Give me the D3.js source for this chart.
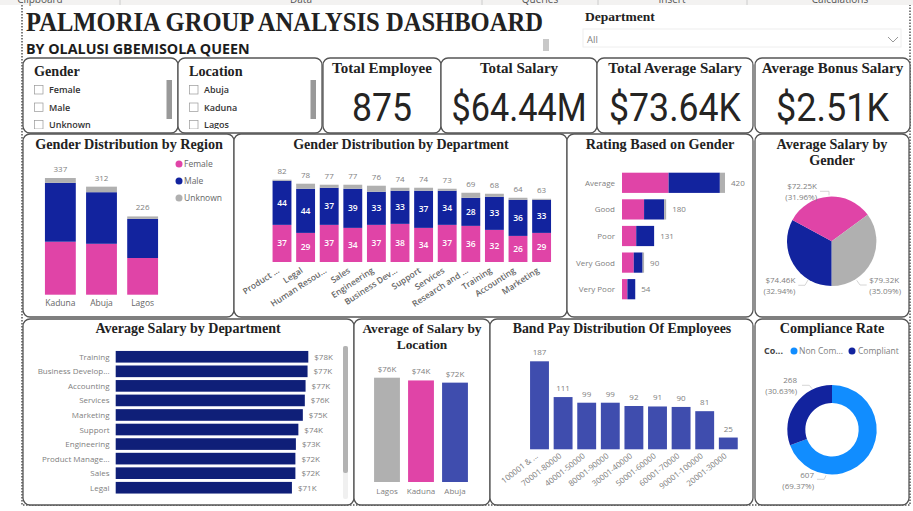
<!DOCTYPE html>
<html>
<head>
<meta charset="utf-8">
<script src="https://cdnjs.cloudflare.com/ajax/libs/d3/7.8.5/d3.min.js"></script>
<style>
    html, body { margin: 0; padding: 0; background: #fff; overflow: hidden; }
    svg { display: block; }
    .title { font-family: "Liberation Serif", serif; font-weight: bold; font-size: 14.2px; fill: #222; text-anchor: middle; }
    .label { font-family: "Open Sans", sans-serif; font-size: 8px; fill: #808080; }
    .axis-label { font-family: "Open Sans", sans-serif; font-size: 8.5px; fill: #666; }
    .inner { font-family: "Open Sans", sans-serif; font-size: 8.5px; fill: #fff; text-anchor: middle; font-weight: 600; }
    .card { font-family: "Roboto", sans-serif; font-size: 38px; fill: #252423; text-anchor: middle; }
    .slicer { font-family: "Open Sans", sans-serif; font-size: 9px; font-weight: 600; fill: #333; }
</style>
</head>
<body>
<svg id="chart" width="913" height="511"></svg>
<script>
var PINK = "#e044a7";
var NAVY = "#12239e";
var GREY = "#b0b0b0";
var INDIGO = "#3f4dae";
var DARK = "#0f1f78";
var SKY = "#118dff";

// Cards and slicers
var cardTitles = ["Total Employee", "Total Salary", "Total Average Salary", "Average Bonus Salary"];
var cardValues = ["875", "$64.44M", "$73.64K", "$2.51K"];
var genderOptions = ["Female", "Male", "Unknown"];
var locationOptions = ["Abuja", "Kaduna", "Lagos"];
var ribbonLabels = ["Clipboard", "Data", "Queries", "Insert", "Calculations"];

// Gender Distribution by Region
var regions = ["Kaduna", "Abuja", "Lagos"];
var regionFemale = [153, 147, 106];
var regionMale = [170, 149, 113];
var regionUnknown = [14, 16, 7];

// Gender Distribution by Department
var departments = ["Product ...", "Legal", "Human Resou...", "Sales", "Engineering", "Business Dev...", "Support", "Services", "Research and ...", "Training", "Accounting", "Marketing"];
var deptFemale = [37, 29, 37, 34, 37, 38, 34, 37, 36, 32, 26, 29];
var deptMale = [44, 44, 37, 39, 33, 33, 37, 34, 28, 33, 36, 33];
var deptUnknown = [1, 5, 3, 4, 6, 3, 3, 2, 5, 3, 2, 1];

// Rating Based on Gender
var ratings = ["Average", "Good", "Poor", "Very Good", "Very Poor"];
var ratingFemale = [190, 90, 58, 48, 22];
var ratingMale = [209, 82, 73, 36, 32];
var ratingUnknown = [21, 8, 0, 6, 0];

// Average Salary by Gender
var pieValues = [74.46, 72.25, 79.32];
var pieAmounts = ["$74.46K", "$72.25K", "$79.32K"];
var piePercents = ["(32.94%)", "(31.96%)", "(35.09%)"];

// Average Salary by Department
var salaryDepts = ["Training", "Business Develop...", "Accounting", "Services", "Marketing", "Support", "Engineering", "Product Manage...", "Sales", "Legal"];
var salaryValues = [77.6, 77.3, 76.5, 76.2, 75.4, 73.6, 72.6, 72.4, 72.4, 71];

// Average of Salary by Location
var locations = ["Lagos", "Kaduna", "Abuja"];
var locationSalary = [76, 74, 72.4];

// Band Pay Distribution Of Employees
var bands = ["100001 & ...", "70001-80000", "40001-50000", "80001-90000", "30001-40000", "50001-60000", "60001-70000", "90001-100000", "20001-30000"];
var bandCounts = [187, 111, 99, 99, 92, 91, 90, 81, 25];

// Compliance Rate
var complianceValues = [607, 268];
var compliancePercents = ["(69.37%)", "(30.63%)"];

var svg = d3.select("#chart");

// Ribbon strip at the top of the screenshot
svg.append("rect").attr("width", 913).attr("height", 5).attr("fill", "#f3f2f1");
var ribbonX = d3.scaleOrdinal().domain(ribbonLabels).range([40, 301, 540, 672, 840]);
svg.selectAll(".ribbon").data(ribbonLabels).enter().append("text")
    .attr("class", "label")
    .attr("x", function (d) { return ribbonX(d); })
    .attr("y", 3)
    .attr("text-anchor", "middle")
    .style("font-size", "10px")
    .style("fill", "#555")
    .text(function (d) { return d; });
[120, 482, 598, 747].forEach(function (x) {
    svg.append("line").attr("x1", x).attr("x2", x).attr("y1", 0).attr("y2", 5).attr("stroke", "#ccc");
});

// Dotted page border
svg.append("path")
    .attr("d", "M22,5 V505 H910 V5")
    .attr("fill", "none")
    .attr("stroke", "#555")
    .attr("stroke-width", 1.5)
    .attr("stroke-dasharray", "1.5,1.5");

// Header
svg.append("text").attr("x", 26).attr("y", 31)
    .style("font-family", "Liberation Serif").style("font-weight", "bold")
    .style("font-size", "27px").style("fill", "#222")
    .attr("textLength", 517).attr("lengthAdjust", "spacingAndGlyphs")
    .text("PALMORIA GROUP ANALYSIS DASHBOARD");
svg.append("text").attr("x", 26).attr("y", 54)
    .style("font-family", "Open Sans").style("font-weight", "bold")
    .style("font-size", "14.3px").style("fill", "#1c1c1c")
    .text("BY OLALUSI GBEMISOLA QUEEN");
svg.append("rect").attr("x", 543).attr("y", 39).attr("width", 6).attr("height", 12).attr("fill", "#c8c8c8");

// Department slicer
svg.append("text").attr("x", 585).attr("y", 21)
    .attr("class", "title").style("text-anchor", "start").style("font-size", "13.5px")
    .text("Department");
svg.append("rect").attr("x", 583).attr("y", 29).attr("width", 318).attr("height", 18)
    .attr("fill", "#fff").attr("stroke", "#eee");
svg.append("text").attr("x", 587).attr("y", 43).attr("class", "label")
    .style("font-size", "9.5px").text("All");
svg.append("path").attr("d", "M888,37 L893,42 L898,37").attr("fill", "none").attr("stroke", "#999");

function panel(x, y, w, h) {
    svg.append("rect")
        .attr("x", x).attr("y", y).attr("width", w).attr("height", h)
        .attr("rx", 7).attr("ry", 7)
        .attr("fill", "#fff")
        .attr("stroke", "#555")
        .attr("stroke-width", 1.3);
}

function title(lines, cx, y, size) {
    lines.forEach(function (line, i) {
        var t = svg.append("text").attr("class", "title")
            .attr("x", cx).attr("y", y + i * 16).text(line);
        if (size) t.style("font-size", size + "px");
    });
}

// Slicers
function slicer(x, name, options, w, scrollX, clipId) {
    panel(x, 58, w, 75);
    svg.append("text").attr("class", "title").style("text-anchor", "start")
        .attr("x", x + 11).attr("y", 76).text(name);
    svg.append("clipPath").attr("id", clipId).append("rect")
        .attr("x", x).attr("y", 58).attr("width", w).attr("height", 71);
    var y = d3.scalePoint().domain(options).range([89.5, 124.5]);
    var g = svg.append("g").attr("clip-path", "url(#" + clipId + ")");
    g.selectAll("rect").data(options).enter().append("rect")
        .attr("x", x + 11.5).attr("y", function (d) { return y(d) - 4; })
        .attr("width", 8.5).attr("height", 8.5)
        .attr("fill", "#fff").attr("stroke", "#999").attr("stroke-width", 0.7);
    g.selectAll("text").data(options).enter().append("text")
        .attr("class", "slicer")
        .attr("x", x + 26).attr("y", function (d) { return y(d) + 3.5; })
        .text(function (d) { return d; });
    svg.append("rect").attr("x", scrollX).attr("y", 80).attr("width", 5.5).attr("height", 39).attr("fill", "#999");
}
slicer(23, "Gender", genderOptions, 155, 166.5, "clipGender");
slicer(178, "Location", locationOptions, 144, 310.5, "clipLocation");

// Cards
var cardBoxes = [[323, 118], [441, 156], [597, 156], [755, 155]];
var cardWidths = [60, 135, 132, 113];
cardTitles.forEach(function (t, i) {
    var box = cardBoxes[i];
    panel(box[0], 58, box[1], 75);
    title([t], box[0] + box[1] / 2, 73, 15);
    svg.append("text").attr("class", "card")
        .attr("x", box[0] + box[1] / 2).attr("y", 121)
        .attr("textLength", cardWidths[i]).attr("lengthAdjust", "spacingAndGlyphs")
        .text(cardValues[i]);
});

// Stacked columns shared by region and department charts
function stackData(names, female, male, unknown) {
    return names.map(function (n, i) {
        return { name: n, Female: female[i], Male: male[i], Unknown: unknown[i] };
    });
}
var stackKeys = ["Female", "Male", "Unknown"];
var stackColor = d3.scaleOrdinal().domain(stackKeys).range([PINK, NAVY, GREY]);

function stackedColumns(data, x, y, showInner) {
    var series = d3.stack().keys(stackKeys)(data);
    var g = svg.append("g");
    series.forEach(function (s) {
        g.selectAll(".bar-" + s.key).data(s).enter().append("rect")
            .attr("x", function (d) { return x(d.data.name); })
            .attr("y", function (d) { return y(d[1]); })
            .attr("width", x.bandwidth())
            .attr("height", function (d) { return y(d[0]) - y(d[1]); })
            .attr("fill", stackColor(s.key));
        if (showInner && s.key !== "Unknown") {
            g.selectAll(".lab-" + s.key).data(s).enter().append("text")
                .attr("class", "inner")
                .attr("x", function (d) { return x(d.data.name) + x.bandwidth() / 2; })
                .attr("y", function (d) { return (y(d[0]) + y(d[1])) / 2 + 3; })
                .text(function (d) { return d[1] - d[0]; });
        }
    });
    g.selectAll(".total").data(data).enter().append("text")
        .attr("class", "label").attr("text-anchor", "middle")
        .attr("x", function (d) { return x(d.name) + x.bandwidth() / 2; })
        .attr("y", function (d) { return y(d.Female + d.Male + d.Unknown) - 6; })
        .text(function (d) { return d.Female + d.Male + d.Unknown; });
}

// Gender Distribution by Region
panel(23, 134, 211, 183);
title(["Gender Distribution by Region"], 129, 149);
var regionData = stackData(regions, regionFemale, regionMale, regionUnknown);
var regionX = d3.scaleBand().domain(regions).range([40, 163]).paddingInner(0.25).paddingOuter(0.12);
var regionY = d3.scaleLinear().domain([0, 337]).range([294.7, 178]);
stackedColumns(regionData, regionX, regionY, false);
svg.selectAll(".region-label").data(regions).enter().append("text")
    .attr("class", "axis-label").attr("text-anchor", "middle")
    .attr("x", function (d) { return regionX(d) + regionX.bandwidth() / 2; })
    .attr("y", 306)
    .text(function (d) { return d; });
var legendY = d3.scalePoint().domain(stackKeys).range([164, 198]);
svg.selectAll(".legend-dot").data(stackKeys).enter().append("circle")
    .attr("cx", 179).attr("cy", function (d) { return legendY(d); }).attr("r", 3.5)
    .attr("fill", function (d) { return stackColor(d); });
svg.selectAll(".legend-text").data(stackKeys).enter().append("text")
    .attr("class", "axis-label")
    .attr("x", 184).attr("y", function (d) { return legendY(d) + 3; })
    .text(function (d) { return d; });

// Gender Distribution by Department
panel(234, 134, 333, 183);
title(["Gender Distribution by Department"], 401, 149, 14);
var deptData = stackData(departments, deptFemale, deptMale, deptUnknown);
var deptX = d3.scaleBand().domain(departments).range([270.2, 553.4]).paddingInner(0.2).paddingOuter(0.1);
var deptY = d3.scaleLinear().domain([0, 82]).range([262, 179.7]);
stackedColumns(deptData, deptX, deptY, true);
svg.selectAll(".dept-label").data(departments).enter().append("text")
    .attr("class", "axis-label").attr("text-anchor", "end")
    .style("font-weight", "600")
    .attr("transform", function (d) {
        return "translate(" + (deptX(d) + deptX.bandwidth() / 2 - 2) + ",272) rotate(-33)";
    })
    .text(function (d) { return d; });

// Rating Based on Gender
panel(567, 134, 186, 183);
title(["Rating Based on Gender"], 660, 149);
var ratingY = d3.scaleBand().domain(ratings).range([169.5, 302.5]).paddingInner(0.24).paddingOuter(0.12);
var ratingX = d3.scaleLinear().domain([0, 420]).range([622, 725]);
var ratingData = stackData(ratings, ratingFemale, ratingMale, ratingUnknown);
d3.stack().keys(stackKeys)(ratingData).forEach(function (s) {
    svg.selectAll(".rating-" + s.key).data(s).enter().append("rect")
        .attr("x", function (d) { return ratingX(d[0]); })
        .attr("y", function (d) { return ratingY(d.data.name); })
        .attr("width", function (d) { return ratingX(d[1]) - ratingX(d[0]); })
        .attr("height", ratingY.bandwidth())
        .attr("fill", stackColor(s.key));
});
svg.selectAll(".rating-name").data(ratings).enter().append("text")
    .attr("class", "label").attr("text-anchor", "end")
    .attr("x", 615)
    .attr("y", function (d) { return ratingY(d) + ratingY.bandwidth() / 2 + 3; })
    .text(function (d) { return d; });
svg.selectAll(".rating-total").data(ratingData).enter().append("text")
    .attr("class", "label")
    .attr("x", function (d) { return ratingX(d.Female + d.Male + d.Unknown) + 6; })
    .attr("y", function (d) { return ratingY(d.name) + ratingY.bandwidth() / 2 + 3; })
    .text(function (d) { return d.Female + d.Male + d.Unknown; });

// Pie and donut labels with their leader lines, placed relative to the centre
function callout(labels, cx, cy, places) {
    labels.forEach(function (lines, i) {
        var p = places[i];
        svg.append("path")
            .attr("transform", "translate(" + cx + "," + cy + ")")
            .attr("d", p.leader)
            .attr("fill", "none").attr("stroke", "#ccc").attr("stroke-width", 0.8);
        lines.forEach(function (line, j) {
            svg.append("text").attr("class", "label").attr("text-anchor", p.anchor)
                .attr("x", cx + p.dx).attr("y", cy + p.dy + j * 11).text(line);
        });
    });
}

// Average Salary by Gender
panel(755, 134, 154, 183);
title(["Average Salary by", "Gender"], 832, 149);
var pieGen = d3.pie().sort(null).startAngle(Math.PI).endAngle(3 * Math.PI);
var pieArc = d3.arc().innerRadius(0).outerRadius(44.7);
var pieColors = [NAVY, PINK, GREY];
svg.append("g").attr("transform", "translate(831.7,241.3)")
    .selectAll("path").data(pieGen(pieValues)).enter().append("path")
    .attr("d", pieArc)
    .attr("fill", function (d, i) { return pieColors[i]; });
callout(pieAmounts.map(function (a, i) { return [a, piePercents[i]]; }), 831.7, 241.3, [
    { anchor: "end", dx: -36.4, dy: 41.7, leader: "M-23.7,38.7 L-26.7,44 H-33.4" },
    { anchor: "end", dx: -14.7, dy: -52.3, leader: "M-2.7,-46 V-50 H-11.7" },
    { anchor: "start", dx: 37.6, dy: 41.7, leader: "M25,39 L28.3,43.7 H35" }
]);

// Average Salary by Department
panel(23, 319, 331, 186);
title(["Average Salary by Department"], 188, 333, 14);
var salaryY = d3.scaleBand().domain(salaryDepts).range([349.5, 495]).paddingInner(0.2).paddingOuter(0.1);
var salaryX = d3.scaleLinear().domain([0, 77.6]).range([115.7, 308.3]);
svg.selectAll(".salary-bar").data(salaryValues).enter().append("rect")
    .attr("x", salaryX(0))
    .attr("y", function (d, i) { return salaryY(salaryDepts[i]); })
    .attr("width", function (d) { return salaryX(d) - salaryX(0); })
    .attr("height", salaryY.bandwidth())
    .attr("fill", DARK);
svg.selectAll(".salary-name").data(salaryDepts).enter().append("text")
    .attr("class", "label").attr("text-anchor", "end").attr("x", 109.5)
    .attr("y", function (d) { return salaryY(d) + salaryY.bandwidth() / 2 + 3; })
    .text(function (d) { return d; });
svg.selectAll(".salary-value").data(salaryValues).enter().append("text")
    .attr("class", "label")
    .attr("x", function (d) { return salaryX(d) + 6; })
    .attr("y", function (d, i) { return salaryY(salaryDepts[i]) + salaryY.bandwidth() / 2 + 3; })
    .text(function (d) { return "$" + Math.round(d) + "K"; });
svg.append("rect").attr("x", 343).attr("y", 346).attr("width", 5).attr("height", 153).attr("rx", 2).attr("fill", "#f0f0f0");
svg.append("rect").attr("x", 343).attr("y", 346).attr("width", 5).attr("height", 127).attr("rx", 2).attr("fill", "#b3b3b3");

// Average of Salary by Location
panel(354, 319, 136, 186);
title(["Average of Salary by", "Location"], 422, 333, 13.4);
var locX = d3.scaleBand().domain(locations).range([370, 472]).paddingInner(0.24).paddingOuter(0.12);
var locY = d3.scaleLinear().domain([0, 76]).range([482, 377.7]);
var locColors = [GREY, PINK, INDIGO];
svg.selectAll(".loc-bar").data(locationSalary).enter().append("rect")
    .attr("x", function (d, i) { return locX(locations[i]); })
    .attr("y", function (d) { return locY(d); })
    .attr("width", locX.bandwidth())
    .attr("height", function (d) { return locY(0) - locY(d); })
    .attr("fill", function (d, i) { return locColors[i]; });
svg.selectAll(".loc-value").data(locationSalary).enter().append("text")
    .attr("class", "label").attr("text-anchor", "middle")
    .attr("x", function (d, i) { return locX(locations[i]) + locX.bandwidth() / 2; })
    .attr("y", function (d) { return locY(d) - 6; })
    .text(function (d) { return "$" + Math.round(d) + "K"; });
svg.selectAll(".loc-name").data(locations).enter().append("text")
    .attr("class", "label").attr("text-anchor", "middle")
    .attr("x", function (d) { return locX(d) + locX.bandwidth() / 2; })
    .attr("y", 494)
    .text(function (d) { return d; });

// Band Pay Distribution Of Employees
panel(490, 319, 263, 186);
title(["Band Pay Distribution Of Employees"], 622, 333, 13.8);
var bandX = d3.scaleBand().domain(bands).range([527.7, 740.1]).paddingInner(0.2).paddingOuter(0.1);
var bandY = d3.scaleLinear().domain([0, 187]).range([449.3, 361.3]);
svg.selectAll(".band-bar").data(bandCounts).enter().append("rect")
    .attr("x", function (d, i) { return bandX(bands[i]); })
    .attr("y", function (d) { return bandY(d); })
    .attr("width", bandX.bandwidth())
    .attr("height", function (d) { return bandY(0) - bandY(d); })
    .attr("fill", INDIGO);
svg.selectAll(".band-value").data(bandCounts).enter().append("text")
    .attr("class", "label").attr("text-anchor", "middle")
    .attr("x", function (d, i) { return bandX(bands[i]) + bandX.bandwidth() / 2; })
    .attr("y", function (d) { return bandY(d) - 6; })
    .text(function (d) { return d; });
svg.selectAll(".band-name").data(bands).enter().append("text")
    .attr("class", "label").attr("text-anchor", "end")
    .attr("transform", function (d) {
        return "translate(" + (bandX(d) + bandX.bandwidth() / 2 - 1) + ",457) rotate(-38)";
    })
    .text(function (d) { return d; });

// Compliance Rate
panel(755, 319, 154, 186);
title(["Compliance Rate"], 832, 333);
svg.append("text").attr("class", "axis-label").attr("x", 764).attr("y", 354)
    .style("font-weight", "bold").style("font-size", "9px").style("fill", "#444").text("Co...");
svg.append("circle").attr("cx", 794).attr("cy", 351).attr("r", 3.5).attr("fill", SKY);
svg.append("text").attr("class", "label").style("font-size", "8.5px").attr("x", 799).attr("y", 354).text("Non Com...");
svg.append("circle").attr("cx", 852).attr("cy", 351).attr("r", 3.5).attr("fill", NAVY);
svg.append("text").attr("class", "label").style("font-size", "8.5px").attr("x", 858).attr("y", 354).text("Compliant");
var donutArc = d3.arc().innerRadius(26.7).outerRadius(44.7);
var donutColors = [SKY, NAVY];
svg.append("g").attr("transform", "translate(832,429.7)")
    .selectAll("path").data(d3.pie().sort(null)(complianceValues)).enter().append("path")
    .attr("d", donutArc)
    .attr("fill", function (d, i) { return donutColors[i]; });
callout(complianceValues.map(function (v, i) { return [String(v), compliancePercents[i]]; }), 832, 429.7, [
    { anchor: "end", dx: -18, dy: 48.6, leader: "M-6,45.6 L-7.7,49.6 H-15" },
    { anchor: "end", dx: -35, dy: -46.7, leader: "M-20,-41 L-22.7,-44.4 H-30" }
]);
</script>
</body>
</html>
